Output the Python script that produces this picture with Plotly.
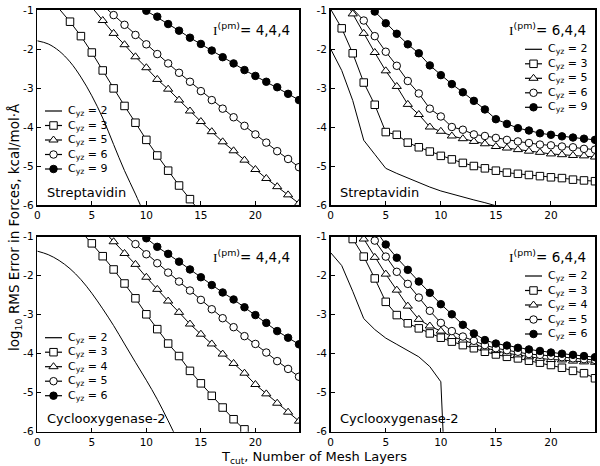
import plotly.graph_objects as go

W, H = 600, 466
FONT = "DejaVu Sans"

X_RANGE = [0, 24]
Y_RANGE = [-6, -1]
TICK_X = [0, 5, 10, 15, 20]
TICK_Y = [-1, -2, -3, -4, -5, -6]
TICK_Y_TEXT = ["-1", "-2", "-3", "-4", "-5", "-6"]

# ---------------- Panel 1: Streptavidin, I(pm) = 4,4,4 ----------------
p1_c2_x = list(range(0, 11))
p1_c2_y = [-1.79, -1.87, -2.05, -2.33, -2.72, -3.20, -3.77, -4.45, -5.12, -5.72, -6.35]
p1_c3_x = list(range(2, 16))
p1_c3_y = [-0.97, -1.30, -1.67, -2.09, -2.55, -3.01, -3.46, -3.89, -4.33, -4.73, -5.12, -5.50, -5.85, -6.20]
p1_c5_x = list(range(5, 25))
p1_c5_y = [-0.93, -1.27, -1.60, -1.89, -2.20, -2.48, -2.78, -3.03, -3.31, -3.59, -3.86,
           -4.12, -4.38, -4.61, -4.85, -5.09, -5.32, -5.53, -5.74, -5.96]
p1_c6_x = list(range(6, 25))
p1_c6_y = [-0.88, -1.13, -1.38, -1.64, -1.88, -2.13, -2.37, -2.61, -2.84, -3.08, -3.31,
           -3.53, -3.75, -3.97, -4.19, -4.40, -4.62, -4.82, -5.03]
p1_c9_x = list(range(9, 25))
p1_c9_y = [-0.85, -1.02, -1.17, -1.36, -1.53, -1.71, -1.87, -2.04, -2.21, -2.37, -2.54,
           -2.69, -2.84, -2.98, -3.15, -3.31]

# ---------------- Panel 2: Streptavidin, I(pm) = 6,4,4 ----------------
p2_c2_x = list(range(0, 16))
p2_c2_y = [-2.00, -2.55, -3.32, -4.34, -4.70, -5.06, -5.19, -5.31, -5.43, -5.54, -5.64,
           -5.72, -5.80, -5.87, -5.94, -6.02]
p2_c3_x = list(range(0, 25))
p2_c3_y = [-0.98, -1.47, -2.11, -2.86, -3.43, -4.13, -4.20, -4.40, -4.52, -4.63, -4.74,
           -4.83, -4.92, -5.00, -5.06, -5.12, -5.17, -5.20, -5.23, -5.26, -5.29, -5.31,
           -5.35, -5.37, -5.39]
p2_c5_x = list(range(1, 25))
p2_c5_y = [-0.60, -1.10, -1.60, -2.09, -2.56, -2.96, -3.42, -3.68, -4.00, -4.11, -4.23,
           -4.30, -4.37, -4.43, -4.50, -4.54, -4.58, -4.62, -4.65, -4.69, -4.71, -4.73,
           -4.74, -4.77]
p2_c6_x = list(range(2, 25))
p2_c6_y = [-0.97, -1.27, -1.67, -2.07, -2.43, -2.82, -3.14, -3.53, -3.73, -4.00, -4.07,
           -4.19, -4.23, -4.28, -4.33, -4.37, -4.41, -4.45, -4.47, -4.50, -4.52, -4.56,
           -4.58]
p2_c9_x = list(range(3, 25))
p2_c9_y = [-0.75, -1.04, -1.34, -1.61, -1.88, -2.11, -2.42, -2.67, -2.90, -3.11, -3.33,
           -3.55, -3.80, -3.92, -4.03, -4.09, -4.16, -4.20, -4.24, -4.27, -4.30, -4.33]

# ---------------- Panel 3: Cyclooxygenase-2, I(pm) = 4,4,4 ----------------
p3_c2_x = list(range(0, 14))
p3_c2_y = [-1.37, -1.46, -1.61, -1.82, -2.10, -2.45, -2.85, -3.28, -3.75, -4.22, -4.68,
           -5.17, -5.72, -6.30]
p3_c3_x = list(range(4, 21))
p3_c3_y = [-0.86, -1.17, -1.50, -1.84, -2.20, -2.58, -2.99, -3.37, -3.74, -4.06, -4.44,
           -4.76, -5.08, -5.38, -5.68, -5.94, -6.22]
p3_c4_x = list(range(6, 25))
p3_c4_y = [-0.83, -1.13, -1.43, -1.71, -2.04, -2.35, -2.65, -2.94, -3.24, -3.50, -3.75,
           -4.01, -4.25, -4.50, -4.79, -5.03, -5.27, -5.50, -5.73]
p3_c5_x = list(range(8, 25))
p3_c5_y = [-0.95, -1.19, -1.45, -1.68, -1.92, -2.15, -2.38, -2.62, -2.86, -3.09, -3.32,
           -3.55, -3.75, -3.97, -4.19, -4.39, -4.59]
p3_c6_x = list(range(9, 25))
p3_c6_y = [-0.85, -1.04, -1.26, -1.44, -1.64, -1.84, -2.04, -2.24, -2.43, -2.61, -2.81,
           -3.01, -3.21, -3.42, -3.59, -3.76]

# ---------------- Panel 4: Cyclooxygenase-2, I(pm) = 6,4,4 ----------------
p4_c2_x = list(range(0, 12))
p4_c2_y = [-1.41, -1.74, -2.40, -3.10, -3.38, -3.60, -3.76, -3.93, -4.08, -4.33, -4.72, -11.0]
p4_c3_x = list(range(1, 25))
p4_c3_y = [-0.60, -1.06, -1.51, -2.07, -2.67, -3.01, -3.22, -3.35, -3.48, -3.59, -3.69,
           -3.78, -3.86, -3.95, -4.02, -4.08, -4.12, -4.18, -4.23, -4.29, -4.36, -4.44,
           -4.50, -4.63]
p4_c4_x = list(range(2, 25))
p4_c4_y = [-0.60, -1.06, -1.53, -1.96, -2.37, -2.78, -3.12, -3.29, -3.42, -3.56, -3.65,
           -3.76, -3.85, -3.92, -3.99, -4.03, -4.08, -4.12, -4.15, -4.16, -4.19, -4.21,
           -4.22]
p4_c5_x = list(range(3, 25))
p4_c5_y = [-0.70, -1.10, -1.51, -1.90, -2.21, -2.56, -2.90, -3.21, -3.42, -3.56, -3.67,
           -3.78, -3.86, -3.91, -3.95, -4.01, -4.03, -4.06, -4.09, -4.12, -4.14, -4.16]
p4_c6_x = list(range(4, 25))
p4_c6_y = [-0.80, -1.20, -1.54, -1.85, -2.15, -2.44, -2.73, -2.99, -3.26, -3.48, -3.65,
           -3.74, -3.79, -3.85, -3.89, -3.93, -3.97, -4.00, -4.03, -4.06, -4.09]

# Labels
protein_labels = ["Streptavidin", "Streptavidin", "Cyclooxygenase-2", "Cyclooxygenase-2"]
ipm_labels = ["4,4,4", "6,4,4", "4,4,4", "6,4,4"]
cyz_p1 = [2, 3, 5, 6, 9]
cyz_p2 = [2, 3, 5, 6, 9]
cyz_p3 = [2, 3, 4, 5, 6]
cyz_p4 = [2, 3, 4, 5, 6]
x_title = "T<sub>cut</sub>, Number of Mesh Layers"
y_title = "log<sub>10</sub> RMS Error in Forces, kcal/mol·Å"

# Marker styles per series slot (none, open square, open triangle, open circle, filled circle)
STYLES = [
    dict(symbol=None, fill="white"),
    dict(symbol="square", fill="white"),
    dict(symbol="triangle-up", fill="white"),
    dict(symbol="circle", fill="white"),
    dict(symbol="circle", fill="black"),
]
MSIZE = [0, 7.5, 8, 7.5, 7.5]

panels = [
    dict(series=[(p1_c2_x, p1_c2_y), (p1_c3_x, p1_c3_y), (p1_c5_x, p1_c5_y), (p1_c6_x, p1_c6_y), (p1_c9_x, p1_c9_y)],
         cyz=cyz_p1, box=(37.3, 10, 299, 205), smooth=True, leg="left"),
    dict(series=[(p2_c2_x, p2_c2_y), (p2_c3_x, p2_c3_y), (p2_c5_x, p2_c5_y), (p2_c6_x, p2_c6_y), (p2_c9_x, p2_c9_y)],
         cyz=cyz_p2, box=(330.7, 10, 595, 205), smooth=False, leg="right"),
    dict(series=[(p3_c2_x, p3_c2_y), (p3_c3_x, p3_c3_y), (p3_c4_x, p3_c4_y), (p3_c5_x, p3_c5_y), (p3_c6_x, p3_c6_y)],
         cyz=cyz_p3, box=(37.3, 236.7, 299, 431.7), smooth=True, leg="left"),
    dict(series=[(p4_c2_x, p4_c2_y), (p4_c3_x, p4_c3_y), (p4_c4_x, p4_c4_y), (p4_c5_x, p4_c5_y), (p4_c6_x, p4_c6_y)],
         cyz=cyz_p4, box=(330.7, 236.7, 595, 431.7), smooth=False, leg="right"),
]

fig = go.Figure()
layout = dict(
    width=W, height=H, margin=dict(l=0, r=0, t=0, b=0, pad=0, autoexpand=False),
    paper_bgcolor="white", plot_bgcolor="white", showlegend=False, hovermode=False,
    font=dict(family=FONT, size=10, color="black"),
)
shapes = []
annotations = []

for k, p in enumerate(panels):
    n = "" if k == 0 else str(k + 1)
    xa, ya = "x" + n, "y" + n
    L, T, R, B = p["box"]
    layout["xaxis" + n] = dict(
        domain=[L / W, R / W], anchor=ya, range=X_RANGE, tickvals=TICK_X,
        ticks="inside", ticklen=4, tickwidth=1, tickcolor="black", automargin=False,
        showline=True, mirror=True, linecolor="black", linewidth=1.6,
        showgrid=False, zeroline=False, tickfont=dict(family=FONT, size=10.5),
    )
    layout["yaxis" + n] = dict(
        domain=[1 - B / H, 1 - T / H], anchor=xa, range=Y_RANGE, tickvals=TICK_Y,
        ticktext=TICK_Y_TEXT, ticks="inside", ticklen=4, tickwidth=1, tickcolor="black",
        automargin=False,
        showline=True, mirror=True, linecolor="black", linewidth=1.6,
        showgrid=False, zeroline=False, tickfont=dict(family=FONT, size=10.5),
    )
    for i, (xs, ys) in enumerate(p["series"]):
        st = STYLES[i]
        shape = "spline" if (i == 0 and p["smooth"]) else "linear"
        fig.add_trace(go.Scatter(x=xs, y=ys, mode="lines", xaxis=xa, yaxis=ya,
                                 line=dict(color="black", width=1, shape=shape, smoothing=1.0),
                                 hoverinfo="skip"))
        if st["symbol"]:
            inside = [(a, b) for a, b in zip(xs, ys) if Y_RANGE[0] <= b <= Y_RANGE[1]]
            fig.add_trace(go.Scatter(
                x=[a for a, _ in inside], y=[b for _, b in inside], mode="markers",
                xaxis=xa, yaxis=ya,
                marker=dict(symbol=st["symbol"], size=MSIZE[i], color=st["fill"],
                            line=dict(color="black", width=1))))

    pw, ph = R - L, B - T
    dx = lambda px: (px - L) / pw
    dy = lambda py: 1 - (py - T) / ph
    xref, yref = xa + " domain", ya + " domain"

    # custom legend
    if p["leg"] == "left":
        lx0, lx1, tx, ry0 = L + 7.7, L + 24.7, L + 28.5, T + 101
    else:
        lx0, lx1, tx, ry0 = L + 194.3, L + 211.3, L + 215.3, T + 39.3
    for i, c in enumerate(p["cyz"]):
        ry = ry0 + 14.5 * i
        shapes.append(dict(type="line", xref=xref, yref=yref, x0=dx(lx0), x1=dx(lx1),
                           y0=dy(ry), y1=dy(ry), line=dict(color="black", width=1.2)))
        st = STYLES[i]
        cx, r = dx((lx0 + lx1) / 2), MSIZE[i] / 2
        common = dict(xref=xref, yref=yref, xsizemode="pixel", ysizemode="pixel",
                      xanchor=cx, yanchor=dy(ry), fillcolor=st["fill"],
                      line=dict(color="black", width=1))
        if st["symbol"] == "square":
            shapes.append(dict(type="rect", x0=-r, x1=r, y0=-r, y1=r, **common))
        elif st["symbol"] == "circle":
            shapes.append(dict(type="circle", x0=-r, x1=r, y0=-r, y1=r, **common))
        elif st["symbol"] == "triangle-up":
            rt, r2 = r * 2 / 3 ** 0.5, r / 2
            shapes.append(dict(type="path", path=f"M{-rt:.2f},{-r2:.2f} L{rt:.2f},{-r2:.2f} L0,{r:.2f} Z", **common))
        annotations.append(dict(xref=xref, yref=yref, x=dx(tx), y=dy(ry), xanchor="left",
                                yanchor="middle", showarrow=False,
                                text=f"C<sub>yz</sub> = {c}", font=dict(size=11)))

    annotations.append(dict(xref=xref, yref=yref, x=dx(R - 7), y=dy(T + 19), xanchor="right",
                            yanchor="middle", showarrow=False,
                            text="<span style='font-family:Liberation Serif'>I</span><sup>(pm)</sup>= " + ipm_labels[k],
                            font=dict(size=13.5)))
    annotations.append(dict(xref=xref, yref=yref, x=dx(L + 7.5), y=dy(B - 13), xanchor="left",
                            yanchor="middle", showarrow=False, text=protein_labels[k],
                            font=dict(size=13)))

annotations.append(dict(xref="paper", yref="paper", x=314 / W, y=1 - 457 / H, xanchor="center",
                        yanchor="middle", showarrow=False, text=x_title, font=dict(size=13)))
annotations.append(dict(xref="paper", yref="paper", x=15 / W, y=1 - 227 / H, xanchor="center",
                        yanchor="middle", showarrow=False, text=y_title, textangle=-90,
                        font=dict(size=13.5)))

layout["shapes"] = shapes
layout["annotations"] = annotations
fig.update_layout(**layout)
fig.write_html("out.html", config={"displayModeBar": False, "staticPlot": True},
               post_script="document.body.style.margin='0px';")
